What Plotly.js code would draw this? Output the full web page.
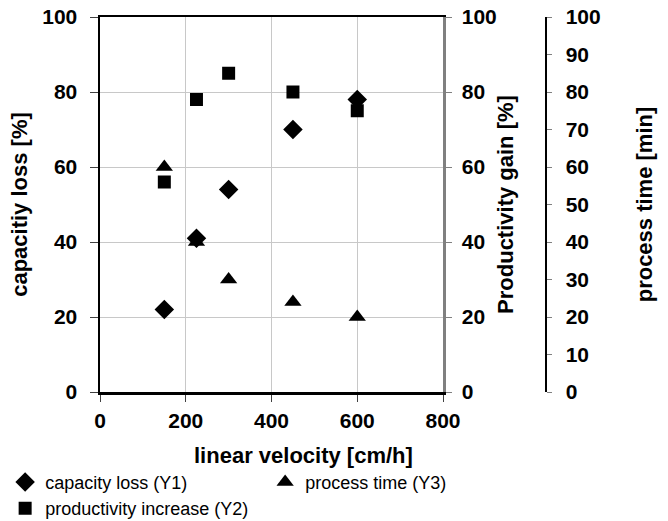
<!DOCTYPE html>
<html><head><meta charset="utf-8">
<script src="https://cdn.plot.ly/plotly-3.0.1.min.js"></script>
<style>html,body{margin:0;padding:0;background:#fff}</style>
</head><body><div id="chart" style="width:668px;height:521px"></div>
<script>
const velocity = [150, 225, 300, 450, 600];
const capacityLoss = [22, 41, 54, 70, 78];
const productivityIncrease = [56, 78, 85, 80, 75];
const processTime = [60, 40, 30, 24, 20];
const seriesNames = ['capacity loss (Y1)', 'process time (Y3)', 'productivity increase (Y2)'];
const xTitle = 'linear velocity [cm/h]';
const y1Title = 'capacitiy loss [%]';
const y2Title = 'Productivity gain [%]';
const y3Title = 'process time [min]';

const FONT = 'Liberation Sans, Arial, sans-serif';
const tickFont = {family: FONT, size: 21, color: '#000', weight: 'bold'};
const titleFont = {family: FONT, size: 22, color: '#000', weight: 'bold'};

const traces = [
  {x: velocity, y: productivityIncrease, yaxis: 'y2', type: 'scatter', mode: 'markers', name: seriesNames[2], legendrank: 3,
   marker: {symbol: 'square', size: 13, color: '#000'}},
  {x: velocity, y: capacityLoss, yaxis: 'y', type: 'scatter', mode: 'markers', name: seriesNames[0], legendrank: 1,
   marker: {symbol: 'diamond', size: 15, color: '#000'}},
  {x: velocity, y: processTime, yaxis: 'y3', type: 'scatter', mode: 'markers', name: seriesNames[1], legendrank: 2,
   marker: {symbol: 'triangle-up', size: 15, color: '#000'}}
];

const layout = {
  width: 668, height: 521,
  margin: {l: 100, r: 0, t: 17, b: 129, autoexpand: false},
  paper_bgcolor: '#fff', plot_bgcolor: '#fff',
  font: {family: FONT, color: '#000'},
  showlegend: true,
  legend: {orientation: 'h', x: -0.167, xanchor: 'left', y: -0.1913, yanchor: 'top',
    font: {family: FONT, size: 18, color: '#000'}, entrywidth: 215, entrywidthmode: 'pixels',
    itemwidth: 30, bgcolor: 'rgba(0,0,0,0)', traceorder: 'normal'},
  xaxis: {domain: [0, 0.6039], range: [0, 800], tick0: 0, dtick: 200,
    showline: true, linecolor: '#000', linewidth: 2.5, mirror: true,
    ticks: 'outside', ticklen: 7, tickwidth: 1, tickcolor: '#404040',
    showgrid: true, gridcolor: '#c8c8c8', gridwidth: 1, zeroline: false,
    tickfont: tickFont, ticklabelstandoff: 1, automargin: false},
  yaxis: {range: [0, 100], tick0: 0, dtick: 20,
    showline: true, linecolor: '#000', linewidth: 2.5,
    ticks: 'outside', ticklen: 8, tickwidth: 1, tickcolor: '#404040',
    showgrid: true, gridcolor: '#c8c8c8', gridwidth: 1, zeroline: false,
    tickfont: tickFont, ticklabelstandoff: 8, automargin: false,
    title: {text: y1Title, font: titleFont, standoff: 9}},
  yaxis2: {overlaying: 'y', side: 'right', anchor: 'x', range: [0, 100], tick0: 0, dtick: 20,
    showline: true, linecolor: '#808080', linewidth: 2.5,
    ticks: 'outside', ticklen: 6, tickwidth: 1, tickcolor: '#808080',
    showgrid: false, zeroline: false, tickfont: tickFont, ticklabelstandoff: 6, automargin: false,
    title: {text: y2Title, font: titleFont, standoff: 2}},
  yaxis3: {overlaying: 'y', side: 'right', anchor: 'free', position: 0.7852, range: [0, 100], tick0: 0, dtick: 10,
    showline: true, linecolor: '#000', linewidth: 2.5,
    ticks: 'outside', ticklen: 5, tickwidth: 1, tickcolor: '#808080',
    showgrid: false, zeroline: false, tickfont: tickFont, ticklabelstandoff: 9, automargin: false,
    title: {text: y3Title, font: titleFont, standoff: 36}},
  annotations: [{text: xTitle, xref: 'paper', yref: 'paper', x: 0.359, y: -0.168,
    xanchor: 'center', yanchor: 'middle', showarrow: false, font: titleFont}]
};

Plotly.newPlot('chart', traces, layout, {displayModeBar: false, staticPlot: true});
</script>
</body></html>
